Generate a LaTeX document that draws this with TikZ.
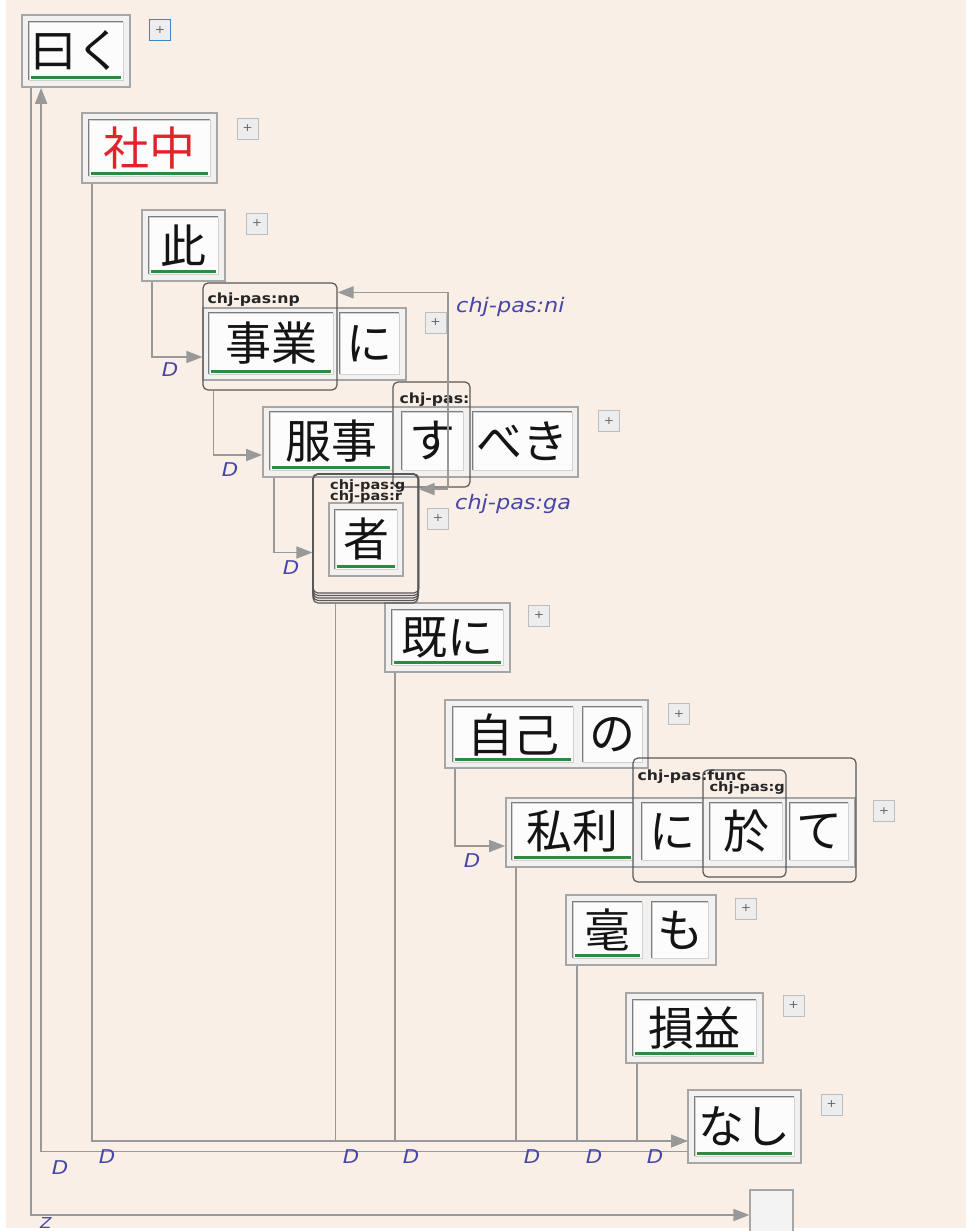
\documentclass[tikz,border=0pt]{standalone}
\usepackage{fontspec}
\newfontfamily\jp{Noto Sans CJK JP}
\newfontfamily\labfont{DejaVu Sans}[FakeStretch=1.12]
\usetikzlibrary{arrows.meta}
\definecolor{bg}{HTML}{F9EFE6}
\definecolor{edgec}{HTML}{999999}
\definecolor{frmc}{HTML}{A6A6A6}
\definecolor{gapc}{HTML}{F2F1F0}
\definecolor{insetc}{HTML}{7C7C7C}
\definecolor{wordc}{HTML}{FCFCFC}
\definecolor{headc}{HTML}{2E8B3D}
\definecolor{lblc}{HTML}{4646A6}
\definecolor{redc}{HTML}{E1242B}
\definecolor{pasc}{HTML}{585858}
\definecolor{plusc}{HTML}{EDEDED}
\definecolor{plusb}{HTML}{BDBDBD}
\definecolor{blueb}{HTML}{3C84C6}
\definecolor{rootc}{HTML}{F3F3F3}
\tikzset{
  phrase/.style={rectangle, draw=frmc, line width=1.8pt, fill=gapc, inner sep=0pt},
  word/.style={rectangle, draw=black!18, line width=0.8pt, fill=wordc, inner sep=0pt, text=black!92, font=\jp\fontsize{46}{46}\selectfont},
  insetline/.style={draw=insetc, line width=1.6pt},
  headl/.style={draw=headc, line width=3pt},
  pasf/.style={rectangle, draw=pasc, line width=1.2pt, rounded corners=5pt, inner sep=0pt},
  paslab/.style={font=\labfont\bfseries\fontsize{14}{14}\selectfont, text=black!85, inner sep=0pt, anchor=north west},
  dep/.style={draw=edgec, line width=1.8pt, -{Triangle[length=16pt,width=12pt]}},
  dlab/.style={font=\labfont\itshape\fontsize{19}{19}\selectfont, text=lblc, inner sep=0pt},
  rlab/.style={font=\labfont\itshape\fontsize{20}{20}\selectfont, text=lblc, inner sep=0pt, anchor=west},
  plusbox/.style={rectangle, draw=plusb, line width=1pt, fill=plusc, minimum size=21pt, inner sep=0pt, font=\labfont\fontsize{11}{11}\selectfont, text=black!60},
}
\newcommand\pbox[5]{\node[phrase,minimum width={#4-#2},minimum height={#5-#3}] (#1) at ({(#2+#4)/2},{(#3+#5)/2}) {};}
\newcommand\wbox[7][]{%
  \node[word,#1,minimum width={#5-#3},minimum height={#6-#4}] (#2) at ({(#3+#5)/2},{(#4+#6)/2}) {\makebox[0pt]{#7}};%
  \draw[insetline] (#2.south west) -- (#2.north west) -- (#2.north east);}
\newcommand\headline[1]{\draw[headl] ([xshift=2pt,yshift=3pt]#1.south west) -- ([xshift=-2pt,yshift=3pt]#1.south east);}
\newcommand\pasbox[5]{\node[pasf,minimum width={#4-#2},minimum height={#5-#3}] (#1) at ({(#2+#4)/2},{(#3+#5)/2}) {};}
\begin{document}
\begin{tikzpicture}[x=1pt,y=-1pt]
\useasboundingbox (0,0) rectangle (966,1231);
\fill[bg] (0,0) rectangle (966,1231);
\fill[white] (0,0) rectangle (6,1231);
\fill[white] (0,1228) rectangle (966,1231);

% phrase 1
\pbox{p1}{22}{15}{130}{87}
\wbox{w1}{29}{22}{123}{80}{曰く}
\headline{w1}
\node[plusbox, draw=blueb, line width=1.6pt] (x1) at (160,30) {+};
% phrase 2
\pbox{p2}{82}{113}{217}{183}
\wbox[text=redc]{w2}{89}{120}{210}{176}{社中}
\headline{w2}
\node[plusbox] (x2) at (247.5,128.5) {+};
% phrase 3
\pbox{p3}{142}{210}{225}{281}
\wbox{w3}{149}{217}{218}{274}{此}
\headline{w3}
\node[plusbox] (x3) at (257,223.5) {+};
% phrase 4
\pbox{p4}{203}{308}{406}{380}
\wbox{w4a}{209}{313}{333}{374}{事業}
\headline{w4a}
\wbox{w4b}{340}{313}{399}{374}{に}
\node[plusbox] (x4) at (435.5,322.5) {+};
% phrase 5
\pbox{p5}{263}{407}{578}{477}
\wbox{w5a}{270}{412}{392}{470}{服事}
\headline{w5a}
\wbox{w5b}{402}{412}{463}{470}{す}
\wbox{w5c}{473}{412}{572}{470}{べき}
\node[plusbox] (x5) at (609,421) {+};
% phrase 6
\pbox{p6}{329}{503}{403}{576}
\wbox{w6}{335}{510}{397}{569}{者}
\headline{w6}
\node[plusbox] (x6) at (438,518.5) {+};
% phrase 7
\pbox{p7}{385}{603}{510}{672}
\wbox{w7}{392}{610}{503}{665}{既に}
\headline{w7}
\node[plusbox] (x7) at (539,615.5) {+};
% phrase 8
\pbox{p8}{445}{700}{648}{768}
\wbox{w8a}{453}{707}{573}{762}{自己}
\headline{w8a}
\wbox{w8b}{583}{707}{642}{762}{の}
\node[plusbox] (x8) at (679,714) {+};
% phrase 9
\pbox{p9}{506}{798}{855}{867}
\wbox{w9a}{512}{803}{633}{860}{私利}
\headline{w9a}
\wbox{w9b}{642}{803}{702}{860}{に}
\wbox{w9c}{710}{803}{782}{860}{於}
\wbox{w9d}{790}{803}{848}{860}{て}
\node[plusbox] (x9) at (884,811) {+};
% phrase 10
\pbox{p10}{566}{895}{716}{965}
\wbox{w10a}{573}{902}{642}{958}{毫}
\headline{w10a}
\wbox{w10b}{652}{902}{708}{958}{も}
\node[plusbox] (x10) at (746,908.5) {+};
% phrase 11
\pbox{p11}{626}{993}{763}{1063}
\wbox{w11}{633}{1000}{756}{1056}{損益}
\headline{w11}
\node[plusbox] (x11) at (793.5,1005.5) {+};
% phrase 12
\pbox{p12}{688}{1090}{801}{1163}
\wbox{w12}{695}{1097}{794}{1156}{なし}
\headline{w12}
\node[plusbox] (x12) at (831.5,1104.5) {+};
% root
\node[rectangle, draw=frmc, line width=1.2pt, fill=rootc, minimum width=43pt, minimum height=50pt, inner sep=0pt] (root) at (771.5,1215) {};

% chj-pas frames
\pasbox{np}{203}{283}{337}{390}
\node[paslab] (npl) at ([xshift=5pt,yshift=-10pt]np.north west) {chj-pas:np};
\pasbox{suf}{393}{382}{470}{487}
\node[paslab] (sufl) at ([xshift=7pt,yshift=-11pt]suf.north west) {chj-pas:};
\foreach \i in {0,...,4}{
  \pasbox{fr\i}{313+3.2*\i}{474+1.5*\i}{418-3*\i}{603-4*\i}
}
\node[paslab, font=\labfont\bfseries\fontsize{13}{13}\selectfont] (frl1) at (330,479) {chj-pas:g};
\node[paslab, font=\labfont\bfseries\fontsize{13}{13}\selectfont] (frl2) at (330,490) {chj-pas:r};
\pasbox{func}{633}{758}{856}{882}
\node[paslab] (funcl) at ([xshift=5pt,yshift=-12pt]func.north west) {chj-pas:func};
\pasbox{gf}{703}{770}{786}{877}
\node[paslab, font=\labfont\bfseries\fontsize{13}{13}\selectfont] (gfl) at ([xshift=7pt,yshift=-12pt]gf.north west) {chj-pas:g};

% D dependencies
\draw[dep] ([xshift=11pt]p3.south west) |- ([yshift=-20.5pt]np.west);
\draw[dep] ([xshift=11pt]np.south west) |- ([yshift=-13pt]p5.west);
\draw[dep] ([xshift=12pt]p5.south west) |- ([yshift=-14pt]fr0.west);
\draw[dep] ([xshift=11pt]p8.south west) |- ([yshift=-13.5pt]p9.west);
\draw[dep] ([xshift=11pt]p2.south west) |- ([yshift=-14.5pt]p12.west);
\draw[dep] ([xshift=23pt]fr0.south west) |- ([yshift=-14.5pt]p12.west);
\draw[dep] ([xshift=11pt]p7.south west) |- ([yshift=-14.5pt]p12.west);
\draw[dep] ([xshift=11pt]p9.south west) |- ([yshift=-14.5pt]p12.west);
\draw[dep] ([xshift=12pt]p10.south west) |- ([yshift=-14.5pt]p12.west);
\draw[dep] ([xshift=12pt]p11.south west) |- ([yshift=-14.5pt]p12.west);
\draw[dep] ([yshift=-25pt]p12.west) -| ([xshift=20pt]p1.south west);
\draw[dep] ([xshift=10pt]p1.south west) |- (root.west);
% chj-pas relations
\draw[dep] ([xshift=16.5pt]suf.south) |- ([yshift=-10pt]np.north east);
\coordinate (gas) at ([xshift=16.5pt,yshift=-1.5pt]suf.south);
\draw[dep] (gas) -- (gas -| fr0.east);

% labels
\node[dlab] (d1) at (170,370) {D};
\node[dlab] (d2) at (230,470) {D};
\node[dlab] (d3) at (291,568) {D};
\node[dlab] (d4) at (472,861) {D};
\node[dlab] (d5) at (107,1157) {D};
\node[dlab] (d6) at (351,1157) {D};
\node[dlab] (d7) at (411,1157) {D};
\node[dlab] (d8) at (532,1157) {D};
\node[dlab] (d9) at (594,1157) {D};
\node[dlab] (d10) at (655,1157) {D};
\node[dlab] (d11) at (60,1168) {D};
\node[dlab, font=\labfont\itshape\fontsize{15}{15}\selectfont] (z1) at (46,1223) {Z};
\node[rlab] (lni) at (456,307) {chj-pas:ni};
\node[rlab] (lga) at (455,504) {chj-pas:ga};
\end{tikzpicture}
\end{document}
